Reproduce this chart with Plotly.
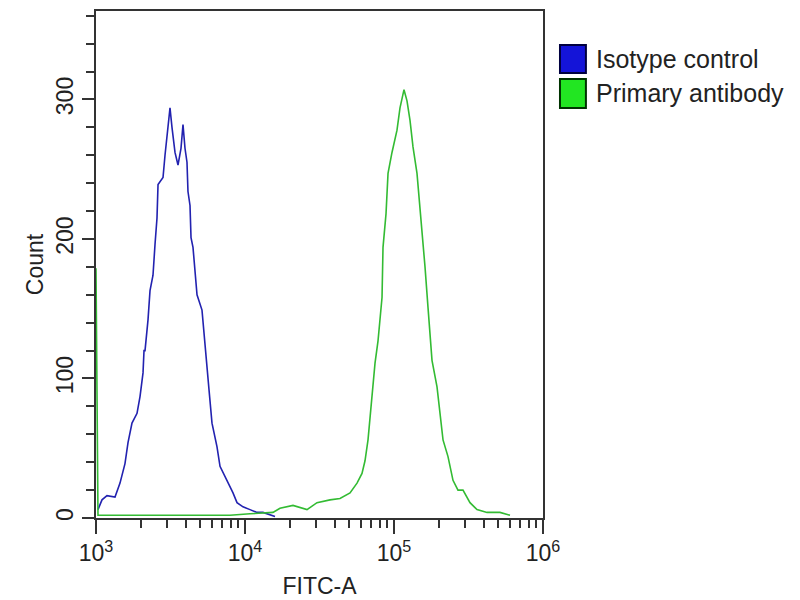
import plotly.graph_objects as go

# Isotype control histogram (FITC-A intensity, count)
iso_x = [1031, 1097, 1185, 1341, 1449, 1565, 1640, 1744, 1885, 1974, 2068, 2100, 2133, 2234,
         2304, 2413, 2489, 2567, 2608, 2817, 2905, 2996, 3090, 3138, 3236, 3390, 3551, 3719,
         3836, 3956, 4080, 4143, 4275, 4342, 4477, 4618, 4764, 5145, 5226, 5473, 5733, 6005,
         6489, 6796, 7573, 8308, 8839, 9696, 10804, 12036, 13206, 15900]
iso_y = [6, 13, 16, 15, 25, 39, 54, 68, 75, 87, 104, 120, 120, 142,
         163, 174, 196, 215, 239, 244, 260, 272, 284, 294, 280, 262, 253, 265,
         282, 265, 255, 234, 224, 201, 194, 176, 160, 149, 140, 115, 92, 68,
         51, 37, 27, 18, 11, 8, 6, 4, 4, 1]

# Primary antibody histogram
pri_x = [1000, 1031, 1691, 3663, 7931, 10804, 15411, 17171, 20994, 26071, 30426, 37187,
         43416, 50680, 56460, 60990, 63888, 66922, 71195, 74577, 78118, 83093, 84384,
         88390, 91169, 96945, 104740, 109720, 116720, 122250, 128080, 134130, 142670,
         149430, 161490, 169120, 179890, 194390, 203570, 213290, 230380, 248870, 268840,
         290430, 323590, 360600, 420950, 514400, 600550]
pri_y = [179, 2, 2, 2, 2, 3, 4, 7, 9, 6, 11, 13,
         14, 18, 25, 32, 41, 56, 85, 111, 127, 158, 194,
         218, 247, 262, 278, 294, 307, 299, 285, 266, 247,
         223, 180, 151, 113, 94, 75, 56, 44, 27, 20,
         20, 11, 6, 4, 4, 2]

series_names = ["Isotype control", "Primary antibody"]
line_colors = ["#2222b0", "#33bb33"]
box_colors = ["#1414d8", "#22e622"]
box_edges = ["#000040", "#003300"]

x_tick_vals = [1e3, 1e4, 1e5, 1e6]
x_tick_text = ["10<sup>3</sup>", "10<sup>4</sup>", "10<sup>5</sup>", "10<sup>6</sup>"]
y_tick_vals = [0, 100, 200, 300]

minor_x = [m * d for d in [1e3, 1e4, 1e5] for m in range(2, 10)]

FONT = "Liberation Sans, Arial, sans-serif"

fig = go.Figure()
fig.add_trace(go.Scatter(x=iso_x, y=iso_y, mode="lines", name=series_names[0],
                         line=dict(color=line_colors[0], width=1.6), showlegend=False))
fig.add_trace(go.Scatter(x=pri_x, y=pri_y, mode="lines", name=series_names[1],
                         line=dict(color=line_colors[1], width=1.6), showlegend=False))

fig.update_layout(
    width=800, height=600,
    margin=dict(l=88, r=265, t=3, b=90),
    paper_bgcolor="white", plot_bgcolor="white",
    font=dict(family=FONT, size=23, color="#222"),
    xaxis=dict(type="log", range=[3, 6], automargin=False,
               title=dict(text="FITC-A", standoff=13, font=dict(size=23)),
               tickvals=x_tick_vals, ticktext=x_tick_text,
               ticks="outside", ticklen=14, tickwidth=1.5, tickcolor="#333",
               minor=dict(tickvals=minor_x, ticks="outside", ticklen=8, tickwidth=1.5, tickcolor="#333"),
               showline=True, linecolor="#333", linewidth=1.5, mirror=True,
               showgrid=False, zeroline=False, layer="below traces"),
    yaxis=dict(range=[0, 363.4], automargin=False,
               title=dict(text="Count", standoff=2, font=dict(size=23)),
               tickvals=y_tick_vals, tickangle=-90,
               ticks="outside", ticklen=12, tickwidth=1.5, tickcolor="#333",
               minor=dict(dtick=20, ticks="outside", ticklen=8, tickwidth=1.5, tickcolor="#333"),
               showline=True, linecolor="#333", linewidth=1.5, mirror=True,
               showgrid=False, zeroline=False, layer="below traces"),
)

# legend drawn as boxes + labels
box_y = [(0.8777, 0.9329), (0.8087, 0.8659)]
for i in range(2):
    fig.add_shape(type="rect", xref="paper", yref="paper", x0=1.038, x1=1.096,
                  y0=box_y[i][0], y1=box_y[i][1], fillcolor=box_colors[i],
                  line=dict(color=box_edges[i], width=2))
    fig.add_annotation(xref="paper", yref="paper", x=1.114, y=(box_y[i][0] + box_y[i][1]) / 2,
                       xanchor="left", yanchor="middle", text=series_names[i], showarrow=False,
                       font=dict(family=FONT, size=25, color="#222"))

fig.write_html("out.html")
